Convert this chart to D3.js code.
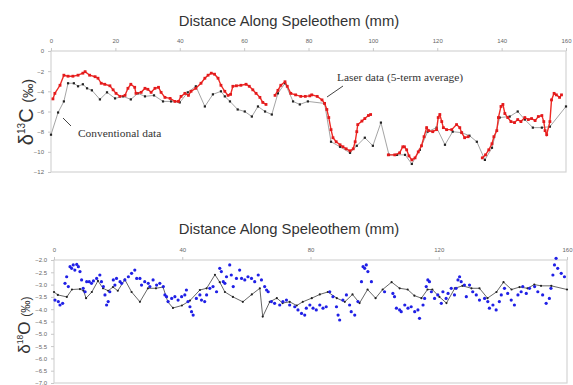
<!DOCTYPE html>
<html>
<head>
<meta charset="utf-8">
<script src="https://cdn.jsdelivr.net/npm/d3@7"></script>
<style>
  body { margin: 0; background: #fff; }
  svg { display: block; font-family: "Liberation Sans", Arial, sans-serif; }
</style>
</head>
<body>
<svg id="chart" width="573" height="385"></svg>
<script>
// top panel: conventional d13C
const convMM = [0, 2.2, 4, 5.3, 7.1, 8.4, 9.9, 11.2, 12.7, 15.2, 17.4, 19.9, 22.4, 24.8, 27, 29.2, 32, 34.8, 37.3, 40,
  42.5, 45, 47.8, 50.3, 52.8, 54, 55.6, 58, 60.2, 62.4, 64.3, 66.5, 68.6, 70.5, 72.7, 75.2, 77.3, 79.8, 85, 87,
  89.8, 92.9, 95, 97.5, 100, 102.5, 105, 107.5, 110, 112.1, 114.6, 117, 119.8, 122.4, 124.8, 127.6, 130, 132.3, 134.8, 137,
  139.4, 142.5, 145, 147.2, 149.7, 152.5, 155, 160];
const convC = [-8.3, -6.1, -5.0, -3.2, -3.2, -3.5, -3.3, -3.7, -3.9, -4.8, -4.1, -4.7, -4.5, -4.8, -4.2, -4.5, -4.4, -5.0, -5.0, -5.1,
  -4.1, -3.5, -5.5, -4.3, -4.0, -4.5, -5.0, -5.8, -6.0, -6.5, -5.5, -6.0, -6.3, -4.2, -3.2, -5.0, -5.3, -5.0, -5.2, -9.0,
  -9.5, -10.1, -9.4, -8.6, -9.4, -7.1, -10.3, -10.3, -10.3, -11.2, -9.8, -8.0, -7.6, -9.3, -8.0, -8.1, -8.4, -9.0, -10.8, -9.6,
  -6.6, -6.5, -6.0, -6.8, -7.6, -7.6, -7.5, -5.5];

// top panel: laser d13C (5-term average); null = gap in the record
const laserMM = [0.6, 1.2, 2.8, 4, 5.3, 6.8, 8.4, 9.9, 10.6, 12, 13.7, 14.6, 15.6, 16.7, 18.3, 19.3, 20.2, 21.4, 23, 23.9,
  24.8, 26, 26.4, 28, 29.2, 30.1, 31.1, 32.3, 33.4, 34.2, 35.4, 37, 38.5, 39.6, 40.4, 41.6, 42.7, 43.5, 45, 46.6,
  47.8, 48.8, 49.8, 50.8, 51.9, 52.8, 54, 55, 55.8, 56.5, 57.6, 59, 60.6, 61.6, 62.7, 63.7, 64.9, 65.8, 66.8, null,
  69.6, 70.5, 71.4, 72.7, 73.4, 74.5, 76, 77.6, 79, 80.4, 81, 82.7, 84.2, 85, 85.7, 86.3, 87, 87.6, 88.6, 89.8,
  90.7, 91.7, 92.9, 93.9, 94.5, 95, 95.3, 96.6, 97.5, 98.6, 99.3, null,
  104.8, 106.8, 108.3, 109.3, 109.8, 110.5, 111.2, 112.1, 113.1, 114.1, 115.1, 115.9, 116.7, 117.3, 118.6, 119.8, 120.3, 120.8, 121.4, 121.9,
  122.9, 124.5, 126, 127, 127.6, 128.5, 129.6, null,
  134, 135, 136, 137, 137.6, 138.5, 139, 139.8, 140.4, 141, 141.9, 142.9, 144, 145, 146, 147.2, 148.3, 149.3, 150.4, 151.4,
  152.5, 153.1, 153.5, 154, 155, 155.5, 156.3, 157, 158, 158.6];
const laserC = [-4.75, -4.2, -3.4, -2.4, -2.5, -2.5, -2.4, -2.2, -2.05, -2.4, -2.55, -2.7, -3.2, -3.3, -3.45, -3.85, -4.2, -4.5, -4.4, -3.7,
  -3.3, -3.6, -4.2, -4.1, -3.7, -3.8, -4.1, -3.7, -3.6, -4.1, -4.6, -4.7, -5.0, -5.0, -4.5, -4.2, -4.4, -4.0, -3.7, -3.2,
  -2.7, -2.4, -2.2, -2.3, -2.7, -3.4, -4.0, -4.4, -4.3, -3.5, -3.45, -3.4, -3.3, -3.5, -3.85, -4.2, -4.6, -5.1, -5.3, null,
  -4.4, -3.9, -3.4, -3.05, -3.5, -4.2, -4.35, -4.5, -4.5, -4.45, -4.35, -4.5, -4.85, -5.2, -5.8, -6.6, -7.8, -8.6, -9.0, -9.3,
  -9.5, -9.7, -9.9, -9.7, -9.0, -8.0, -7.3, -6.95, -6.7, -6.4, -6.3, null,
  -10.3, -10.3, -10.1, -9.5, -9.5, -9.8, -10.4, -10.8, -10.6, -10.0, -9.4, -8.5, -7.6, -7.9, -8.0, -7.8, -6.6, -6.3, -7.0, -7.6,
  -7.8, -7.8, -7.3, -7.6, -8.1, -8.6, -8.5, null,
  -10.6, -10.3, -9.8, -9.2, -8.5, -7.9, -6.6, -5.5, -5.3, -6.2, -6.6, -7.0, -7.1, -6.8, -7.0, -6.6, -6.8, -6.7, -6.9, -6.5,
  -6.4, -7.0, -7.9, -8.3, -7.0, -4.85, -4.2, -4.35, -4.6, -4.35];

// bottom panel: conventional d18O
const convOMM = [0, 1.2, 4, 5.6, 8.1, 9.2, 10, 11.8, 13.7, 15.3, 16.9, 18.4, 19.9, 22.1, 24.2, 26.8, 29.3, 31.8, 34, 35.5,
  37.1, 39.9, 42.4, 45.5, 47.6, 50.2, 51.7, 53.3, 55.8, 58.9, 61.7, 64.2, 65.1, 67.3, 69.5, 71.3, 73.5, 75.7, 77.6, 80.4,
  82.9, 85.4, 88.2, 90.7, 93.1, 95.3, 97.8, 100.3, 102.5, 105.3, 107.8, 110.3, 112.4, 114.6, 116.5, 118, 120.2, 122.4, 125, 127.4,
  130.2, 132.7, 135.2, 138, 140.2, 142.7, 145.2, 147.7, 149.8, 151.9, 155.1, 160];
const convO = [-3.3, -3.42, -3.5, -3.2, -3.18, -3.25, -3.55, -3.3, -2.85, -3.15, -3.25, -3.1, -3.25, -2.8, -3.3, -3.7, -3.15, -3.15, -3.1, -3.7,
  -3.95, -3.85, -3.65, -3.22, -3.15, -2.6, -2.9, -3.3, -3.5, -3.7, -3.4, -3.15, -4.3, -3.7, -3.55, -3.75, -3.7, -3.85, -3.7, -3.55,
  -3.4, -3.3, -3.55, -3.7, -3.4, -3.75, -3.2, -3.55, -3.2, -2.9, -3.15, -3.2, -3.45, -3.55, -3.2, -3.2, -3.5, -3.75, -3.15, -3.05,
  -3.15, -3.15, -3.55, -3.3, -2.9, -3.2, -3.1, -3.15, -3.0, -3.05, -3.05, -3.2];

// bottom panel: laser d18O
const laserOMM = [0.3, 1.35, 1.87, 2.7, 3.43, 3.95, 4.47, 5.0, 5.5, 6.0, 6.5, 7.1, 7.6, 8.1, 8.6, 9.1, 9.7, 10.2, 11.0, 11.7,
  12.3, 13.3, 14.3, 14.8, 15.4, 15.9, 16.4, 16.9, 17.4, 18.5, 19.0, 19.5, 20.6, 21.1, 22.1, 23.2, 24.2, 25.2, 25.8, 26.8,
  27.3, 28.3, 29.4, 29.9, 30.9, 32.0, 33.0, 34.1, 34.6, 35.1, 35.6, 36.7, 37.7, 38.7, 39.8, 40.8, 41.3, 41.8, 42.4, 42.9,
  43.4, 44.4, 45.5, 46.0, 47.0, 47.6, 48.6, 49.6, 50.7, 51.7, 52.2, 52.8, 53.3, 53.8, 54.8, 55.3, 55.9, 56.9, 57.9, 58.5,
  59.5, 60.5, 61.6, 62.6, 63.7, 64.7, 65.7, 66.3, 66.8, 67.8, 68.8, 70.4, 71.4, 72.5, 73.5, 75.1, 76.1, 77.2, 78.2, 78.7,
  79.8, 80.8, 81.8, 82.9, 83.9, 84.9, 86.0, 87.0, 88.1, 88.6, 89.1, 90.1, 91.2, 92.2, 92.7, 93.8, 94.8, 95.9, 96.4, 96.9,
  97.4, 97.9, 99.0, 103.1, 105.7, 106.2, 106.8, 107.8, 108.3, 109.4, 110.4, 111.4, 112.5, 113.5, 114.0, 115.1, 115.6, 116.1, 116.6, 117.1,
  117.7, 118.7, 119.7, 120.8, 121.3, 122.3, 122.9, 123.9, 124.9, 125.4, 126.0, 126.5, 127.0, 128.0, 128.6, 129.6, 130.6, 131.7, 132.7, 134.3,
  135.3, 135.8, 136.9, 137.9, 138.9, 139.5, 140.5, 141.5, 142.6, 143.6, 144.7, 145.7, 146.2, 147.3, 148.3, 149.9, 150.9, 152.4, 153.5, 154.5,
  155.0, 155.6, 156.1, 156.6, 157.1, 158.2, 159.2];
const laserO = [-3.63, -3.69, -3.83, -3.76, -2.95, -2.68, -3.08, -2.27, -2.34, -2.2, -2.41, -2.18, -2.27, -2.47, -2.81, -3.15, -3.29, -2.88, -2.88, -2.95,
  -2.85, -2.75, -2.61, -2.88, -3.08, -3.42, -3.83, -3.69, -3.29, -2.81, -3.02, -2.75, -2.88, -2.95, -2.81, -2.68, -2.54, -2.41, -2.75, -2.75,
  -3.02, -2.88, -2.95, -3.08, -2.81, -3.02, -2.95, -3.08, -3.42, -3.49, -3.69, -3.56, -3.49, -3.63, -3.49, -3.42, -3.22, -3.69, -3.9, -4.1,
  -4.24, -3.56, -3.42, -3.63, -3.69, -3.42, -3.15, -3.08, -3.29, -2.34, -2.47, -2.88, -2.95, -2.68, -2.2, -2.61, -3.08, -2.75, -2.41, -2.75,
  -2.81, -2.68, -2.75, -2.88, -2.61, -2.81, -3.08, -3.22, -3.29, -3.69, -3.76, -3.83, -3.69, -3.63, -3.83, -3.9, -4.03, -4.17, -4.24, -3.96,
  -3.83, -3.96, -4.03, -3.83, -3.96, -3.9, -3.29, -3.49, -3.9, -4.24, -4.44, -3.63, -3.42, -3.83, -4.1, -4.24, -3.69, -2.88, -2.27, -2.34,
  -2.2, -2.47, -2.88, -3.29, -3.36, -3.49, -3.96, -4.03, -4.1, -3.83, -3.96, -3.9, -4.1, -4.03, -4.37, -3.83, -3.56, -3.08, -2.81, -2.88,
  -3.29, -3.56, -3.42, -3.76, -3.29, -3.56, -3.36, -3.15, -3.42, -3.15, -2.81, -2.68, -2.88, -3.02, -3.49, -3.02, -3.29, -3.42, -3.63, -3.56,
  -3.69, -3.96, -3.83, -4.03, -3.69, -3.42, -3.15, -3.36, -3.63, -3.83, -3.42, -3.29, -3.08, -3.36, -3.15, -3.08, -3.29, -3.42, -3.76, -3.56,
  -3.15, -2.61, -2.2, -1.93, -2.34, -2.54, -2.68];

const xTicksC = [0, 20, 40, 60, 80, 100, 120, 140, 160];
const yTicksC = [0, -2, -4, -6, -8, -10, -12];
const xTicksO = [0, 40, 80, 120, 160];
const yTicksO = [-2, -2.5, -3, -3.5, -4, -4.5, -5, -5.5, -6, -6.5, -7];

const svg = d3.select('#chart');
const zip = (xs, ys) => xs.map((x, i) => ({x: x, y: ys[i]}));

function panel(opts) {
  const x = d3.scaleLinear().domain([0, 160]).range([opts.left, opts.right]);
  const y = d3.scaleLinear().domain(opts.yDomain).range([opts.bottom, opts.top]);
  const g = svg.append('g');

  // frame
  g.append('rect')
    .attr('x', opts.left).attr('y', opts.top)
    .attr('width', opts.right - opts.left).attr('height', opts.bottom - opts.top)
    .attr('fill', 'none').attr('stroke', '#d4d4d4').attr('stroke-width', 1.2);

  const xa = g.append('g')
    .attr('transform', `translate(0,${opts.top})`)
    .call(d3.axisTop(x).tickValues(opts.xTicks).tickSize(3).tickPadding(5));
  const ya = g.append('g')
    .attr('transform', `translate(${opts.left},0)`)
    .call(d3.axisLeft(y).tickValues(opts.yTicks).tickSize(3).tickPadding(4).tickFormat(opts.yFormat));
  [xa, ya].forEach(a => {
    a.select('.domain').remove();
    a.selectAll('line').attr('stroke', '#c8c8c8');
    a.selectAll('text').attr('fill', '#666').style('font-size', '6px');
  });

  g.append('text')
    .attr('x', 289).attr('y', opts.titleY)
    .attr('text-anchor', 'middle')
    .style('font-size', '14.8px').attr('fill', '#333')
    .text('Distance Along Speleothem (mm)');

  const lab = g.append('text')
    .attr('transform', `translate(${opts.labX},${opts.labY}) rotate(-90)`)
    .attr('text-anchor', 'middle').attr('fill', '#333');
  lab.append('tspan').style('font-size', opts.labSize + 'px').text('δ');
  lab.append('tspan').style('font-size', (opts.labSize * 0.5) + 'px').attr('dy', -opts.labSize * 0.42).text(opts.iso);
  lab.append('tspan').style('font-size', opts.labSize + 'px').attr('dy', opts.labSize * 0.42).text(opts.el + ' ');
  lab.append('tspan').style('font-size', (opts.labSize * 0.72) + 'px').text('(‰)');

  return {x, y, g};
}

// ---------- top: d13C ----------
const topP = panel({left: 51, right: 566, top: 51, bottom: 172, yDomain: [-12, 0],
  xTicks: xTicksC, yTicks: yTicksC, yFormat: d3.format('d'),
  titleY: 26, labX: 33, labY: 112, labSize: 20, iso: '13', el: 'C'});

const conv = zip(convMM, convC);
topP.g.append('path')
  .datum(conv)
  .attr('fill', 'none').attr('stroke', '#9a9a9a').attr('stroke-width', 0.9)
  .attr('d', d3.line().x(d => topP.x(d.x)).y(d => topP.y(d.y)));
topP.g.selectAll('.cv').data(conv).enter().append('rect')
  .attr('x', d => topP.x(d.x) - 1.1).attr('y', d => topP.y(d.y) - 1.1)
  .attr('width', 2.2).attr('height', 2.2).attr('fill', '#222');

const laser = zip(laserMM, laserC);
topP.g.append('path')
  .datum(laser)
  .attr('fill', 'none').attr('stroke', '#ee2a24').attr('stroke-width', 1.4)
  .attr('d', d3.line().defined(d => d.x !== null).x(d => topP.x(d.x)).y(d => topP.y(d.y)));
topP.g.selectAll('.lz').data(laser.filter(d => d.x !== null)).enter().append('rect')
  .attr('x', d => topP.x(d.x) - 1.4).attr('y', d => topP.y(d.y) - 1.4)
  .attr('width', 2.8).attr('height', 2.8).attr('fill', '#e31a1c');

// annotations
const ann = topP.g.append('g').style('font-family', '"Liberation Serif", "Times New Roman", serif')
  .style('font-size', '11.4px').attr('fill', '#333');
ann.append('text').attr('x', 337).attr('y', 81).text('Laser data (5-term average)');
ann.append('text').attr('x', 78).attr('y', 137).text('Conventional data');
topP.g.append('line').attr('x1', 327).attr('y1', 97).attr('x2', 343).attr('y2', 86)
  .attr('stroke', '#444').attr('stroke-width', 1);
topP.g.append('line').attr('x1', 63).attr('y1', 118).attr('x2', 71).attr('y2', 126)
  .attr('stroke', '#444').attr('stroke-width', 1);

// ---------- bottom: d18O ----------
const botP = panel({left: 54, right: 567, top: 260, bottom: 383, yDomain: [-7, -2],
  xTicks: xTicksO, yTicks: yTicksO, yFormat: d3.format('.1f'),
  titleY: 234, labX: 30, labY: 325, labSize: 17, iso: '18', el: 'O'});

const convOpts = zip(convOMM, convO);
botP.g.append('path')
  .datum(convOpts)
  .attr('fill', 'none').attr('stroke', '#555').attr('stroke-width', 0.9)
  .attr('d', d3.line().x(d => botP.x(d.x)).y(d => botP.y(d.y)));
botP.g.selectAll('.co').data(convOpts).enter().append('circle')
  .attr('cx', d => botP.x(d.x)).attr('cy', d => botP.y(d.y)).attr('r', 1.1).attr('fill', '#222');

botP.g.selectAll('.lo').data(zip(laserOMM, laserO)).enter().append('circle')
  .attr('cx', d => botP.x(d.x)).attr('cy', d => botP.y(d.y)).attr('r', 1.6)
  .attr('fill', '#2020e6');
</script>
</body>
</html>
